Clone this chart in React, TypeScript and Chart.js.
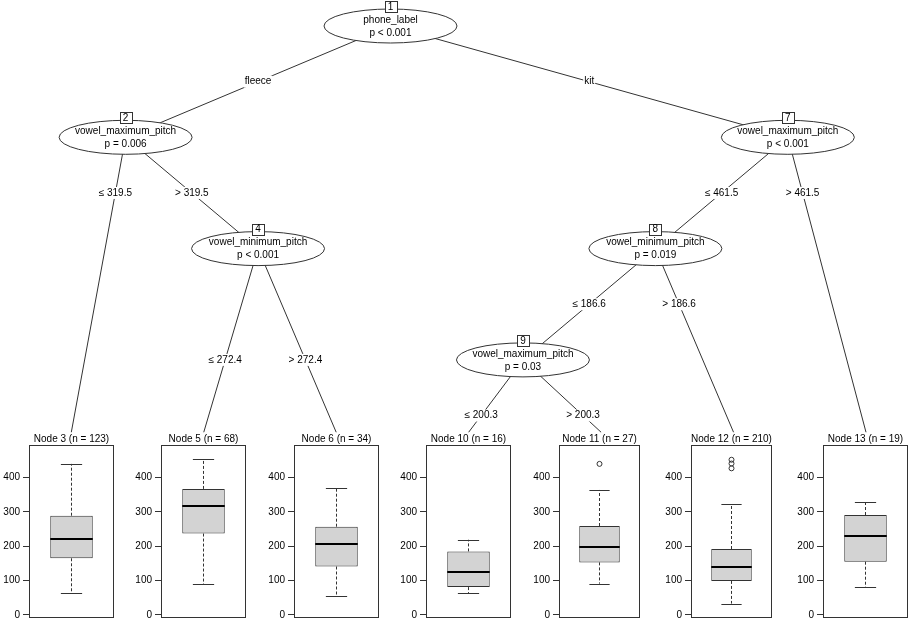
import React, { useEffect, useRef } from 'react';
import { Chart, registerables } from 'chart.js';

Chart.register(...registerables);

const FONT = '"Liberation Sans", Arial, Helvetica, sans-serif';

// ---- Tree data ----
const innerIds = [1, 2, 4, 7, 8, 9];
const innerVariables = [
  'phone_label',
  'vowel_maximum_pitch',
  'vowel_minimum_pitch',
  'vowel_maximum_pitch',
  'vowel_minimum_pitch',
  'vowel_maximum_pitch',
];
const innerPValues = ['p < 0.001', 'p = 0.006', 'p < 0.001', 'p < 0.001', 'p = 0.019', 'p = 0.03'];

const edgeFrom = [1, 1, 2, 2, 4, 4, 7, 7, 8, 8, 9, 9];
const edgeTo = [2, 7, 3, 4, 5, 6, 8, 13, 9, 12, 10, 11];
const edgeLabels = [
  'fleece', 'kit',
  '\u2264 319.5', '> 319.5',
  '\u2264 272.4', '> 272.4',
  '\u2264 461.5', '> 461.5',
  '\u2264 186.6', '> 186.6',
  '\u2264 200.3', '> 200.3',
];

// ---- Terminal node data (boxplot statistics) ----
const terminalIds = [3, 5, 6, 10, 11, 12, 13];
const terminalN = [123, 68, 34, 16, 27, 210, 19];
const boxLower = [63, 90, 54, 63, 91, 33, 81];
const boxQ1 = [165, 237, 141, 81, 153, 99, 155];
const boxMedian = [222, 316, 208, 125, 197, 139, 230];
const boxQ3 = [289, 367, 257, 185, 259, 192, 291];
const boxUpper = [440, 453, 371, 219, 364, 323, 329];
const boxOutliers: number[][] = [[], [], [], [], [440], [452, 441, 427], []];
const yTicks = [0, 100, 200, 300, 400];

// ---- Layout constants (positions / sizes, not data) ----
const W = 909;
const H = 620;
const TERM_FIRST_CENTER = 71.3;
const TERM_SPACING = 132.45;
const NODE_SHIFT = 0.41;
const LEVEL_TOP = 26;
const LEVEL_STEP = 111.3;
const TERMINAL_EDGE_DEPTH = 3.65;
const RX = 66.5;
const RY = 17;
const FRAME_W = 85;
const AXIS_W = 30;
const PANEL_TOP = 430;
const PANEL_PAD_TOP = 15;
const PANEL_H = 200;
const PANEL_PAD_BOTTOM = 12;

// ---- Derived tree layout ----
const children: Record<number, number[]> = {};
edgeFrom.forEach((f, i) => {
  (children[f] = children[f] || []).push(edgeTo[i]);
});
const isTerminal = (id: number) => terminalIds.includes(id);
const countTerms = (id: number): number =>
  isTerminal(id) ? 1 : children[id].reduce((s, c) => s + countTerms(c), 0);
const depth: Record<number, number> = {};
const xPos: Record<number, number> = {};
let maxDepth = 0;
function layout(id: number, d: number, offset: number) {
  if (isTerminal(id)) {
    xPos[id] = offset + 1;
    return;
  }
  depth[id] = d;
  maxDepth = Math.max(maxDepth, d);
  const [l, r] = children[id];
  const nl = countTerms(l);
  xPos[id] = offset + nl + NODE_SHIFT;
  layout(l, d + 1, offset);
  layout(r, d + 1, offset + nl);
}
layout(innerIds[0], 0, 0);
terminalIds.forEach((id) => {
  depth[id] = maxDepth + 1;
});
const endDepth = (id: number) => (isTerminal(id) ? TERMINAL_EDGE_DEPTH : depth[id]);
const labelDepth = (parent: number) =>
  (depth[parent] + Math.min(...children[parent].map((c) => depth[c]))) / 2;

const xMin = 1 - TERM_FIRST_CENTER / TERM_SPACING;
const xMax = xMin + W / TERM_SPACING;
const yMin = -LEVEL_TOP / LEVEL_STEP;
const yMax = yMin + H / LEVEL_STEP;

const allVals = [...boxLower, ...boxUpper, ...boxOutliers.flat()];
const dMin = Math.min(...allVals);
const dMax = Math.max(...allVals);
const dRange = dMax - dMin;
const panelYMin = dMin - 0.1 * dRange;
const panelYMax = dMax + 0.1 * dRange;

const treePlugin = {
  id: 'treeNodes',
  afterDatasetsDraw(chart: any) {
    const { ctx } = chart;
    const xs = chart.scales.x;
    const ys = chart.scales.y;
    ctx.save();
    ctx.font = `10px ${FONT}`;
    ctx.textAlign = 'center';
    ctx.textBaseline = 'middle';
    edgeFrom.forEach((f, i) => {
      const t = edgeTo[i];
      const ld = labelDepth(f);
      const x0 = xPos[f];
      const y0 = depth[f];
      const x1 = xPos[t];
      const y1 = endDepth(t);
      const lx = x0 + ((x1 - x0) * (ld - y0)) / (y1 - y0);
      const px = xs.getPixelForValue(lx);
      const py = ys.getPixelForValue(ld);
      const w = ctx.measureText(edgeLabels[i]).width;
      ctx.fillStyle = '#fff';
      ctx.fillRect(px - w / 2 - 1, py - 6, w + 2, 12);
      ctx.fillStyle = '#000';
      ctx.fillText(edgeLabels[i], px, py);
    });
    innerIds.forEach((id, k) => {
      const px = xs.getPixelForValue(xPos[id]);
      const py = ys.getPixelForValue(depth[id]);
      ctx.beginPath();
      ctx.ellipse(px, py, RX, RY, 0, 0, Math.PI * 2);
      ctx.fillStyle = '#fff';
      ctx.fill();
      ctx.strokeStyle = '#333';
      ctx.lineWidth = 1;
      ctx.stroke();
      ctx.fillStyle = '#000';
      ctx.fillText(innerVariables[k], px, py - 6);
      ctx.fillText(innerPValues[k], px, py + 7);
      const s = String(id);
      const bw = Math.max(ctx.measureText(s).width + 6, 12);
      const bh = 11;
      const by = py - 19.5;
      const bx = Math.round(px - bw / 2) + 0.5;
      const byy = Math.round(by - bh / 2) + 0.5;
      ctx.fillStyle = '#fff';
      ctx.fillRect(bx, byy, bw, bh);
      ctx.strokeStyle = '#333';
      ctx.strokeRect(bx, byy, bw, bh);
      ctx.fillStyle = '#000';
      ctx.fillText(s, px, by + 0.5);
    });
    ctx.restore();
  },
};

function TreeCanvas() {
  const ref = useRef<HTMLCanvasElement>(null);
  useEffect(() => {
    const datasets = edgeFrom.map((f, i) => {
      const t = edgeTo[i];
      return {
        type: 'scatter' as const,
        data: [
          { x: xPos[f], y: depth[f] },
          { x: xPos[t], y: endDepth(t) },
        ],
        showLine: true,
        borderColor: '#333',
        borderWidth: 1,
        pointRadius: 0,
      };
    });
    const chart = new Chart(ref.current as HTMLCanvasElement, {
      type: 'scatter',
      data: { datasets },
      options: {
        animation: false,
        responsive: false,
        devicePixelRatio: 1,
        layout: { padding: 0 },
        scales: {
          x: { type: 'linear', min: xMin, max: xMax, display: false },
          y: { type: 'linear', min: yMin, max: yMax, reverse: true, display: false },
        },
        plugins: { legend: { display: false }, tooltip: { enabled: false } },
      },
      plugins: [treePlugin],
    } as any);
    return () => chart.destroy();
  }, []);
  return (
    <canvas
      ref={ref}
      width={W}
      height={H}
      style={{ position: 'absolute', left: 0, top: 0, width: W, height: H }}
    />
  );
}

function Panel({ index }: { index: number }) {
  const ref = useRef<HTMLCanvasElement>(null);
  const center = TERM_FIRST_CENTER + TERM_SPACING * index;
  const frameLeft = Math.round(center - FRAME_W / 2);
  const left = frameLeft - AXIS_W;
  const cw = AXIS_W + FRAME_W + 1;
  useEffect(() => {
    const boxPlugin = {
      id: 'boxExtras',
      afterDatasetsDraw(chart: any) {
        const { ctx, chartArea } = chart;
        const ys = chart.scales.y;
        const xs = chart.scales.x;
        const cx = xs.getPixelForValue(0);
        const bw = (chartArea.right - chartArea.left) * 0.5;
        const yq1 = ys.getPixelForValue(boxQ1[index]);
        const yq3 = ys.getPixelForValue(boxQ3[index]);
        const ylo = ys.getPixelForValue(boxLower[index]);
        const yhi = ys.getPixelForValue(boxUpper[index]);
        const ymed = ys.getPixelForValue(boxMedian[index]);
        ctx.save();
        ctx.strokeStyle = '#333';
        ctx.lineWidth = 1;
        ctx.setLineDash([3, 2]);
        ctx.beginPath();
        ctx.moveTo(cx, yq3);
        ctx.lineTo(cx, yhi);
        ctx.moveTo(cx, yq1);
        ctx.lineTo(cx, ylo);
        ctx.stroke();
        ctx.setLineDash([]);
        ctx.beginPath();
        ctx.moveTo(cx - bw / 4, Math.round(yhi) + 0.5);
        ctx.lineTo(cx + bw / 4, Math.round(yhi) + 0.5);
        ctx.moveTo(cx - bw / 4, Math.round(ylo) + 0.5);
        ctx.lineTo(cx + bw / 4, Math.round(ylo) + 0.5);
        ctx.stroke();
        ctx.strokeStyle = '#000';
        ctx.lineWidth = 2;
        ctx.beginPath();
        ctx.moveTo(cx - bw / 2, Math.round(ymed));
        ctx.lineTo(cx + bw / 2, Math.round(ymed));
        ctx.stroke();
        ctx.restore();
      },
      afterDraw(chart: any) {
        const { ctx, chartArea } = chart;
        ctx.save();
        ctx.strokeStyle = '#333';
        ctx.lineWidth = 1;
        const l = Math.round(chartArea.left) + 0.5;
        const t = Math.round(chartArea.top) + 0.5;
        const r = Math.round(chartArea.right) - 0.5;
        const b = Math.round(chartArea.bottom) - 0.5;
        ctx.strokeRect(l, t, r - l, b - t);
        ctx.fillStyle = '#000';
        ctx.font = `10px ${FONT}`;
        ctx.textAlign = 'center';
        ctx.textBaseline = 'middle';
        ctx.fillText(
          `Node ${terminalIds[index]} (n = ${terminalN[index]})`,
          (chartArea.left + chartArea.right) / 2,
          chartArea.top - 6
        );
        ctx.restore();
      },
    };
    const chart = new Chart(ref.current as HTMLCanvasElement, {
      type: 'bar',
      data: {
        labels: [''],
        datasets: [
          {
            type: 'bar',
            data: [[boxQ1[index], boxQ3[index]]],
            backgroundColor: '#d3d3d3',
            borderColor: '#333',
            borderWidth: 1,
            borderSkipped: false,
            barPercentage: 0.5,
            categoryPercentage: 1,
          },
          {
            type: 'scatter',
            data: boxOutliers[index].map((v) => ({ x: '', y: v })),
            pointRadius: 2.5,
            pointBorderColor: '#333',
            pointBackgroundColor: 'rgba(0,0,0,0)',
            pointBorderWidth: 1,
            showLine: false,
          },
        ],
      },
      options: {
        animation: false,
        responsive: false,
        devicePixelRatio: 1,
        layout: { padding: { top: PANEL_PAD_TOP, bottom: PANEL_PAD_BOTTOM, left: 0, right: 1 } },
        scales: {
          x: { type: 'category', display: false },
          y: {
            type: 'linear',
            min: panelYMin,
            max: panelYMax,
            afterFit: (scale: any) => {
              scale.width = AXIS_W;
            },
            afterBuildTicks: (scale: any) => {
              scale.ticks = yTicks.map((v) => ({ value: v }));
            },
            border: { display: false },
            grid: {
              display: true,
              drawOnChartArea: false,
              drawTicks: true,
              tickLength: 6,
              color: '#333',
              lineWidth: 1,
            },
            ticks: {
              color: '#000',
              padding: 3,
              font: { family: FONT, size: 10 },
            },
          },
        },
        plugins: { legend: { display: false }, tooltip: { enabled: false } },
      },
      plugins: [boxPlugin],
    } as any);
    return () => chart.destroy();
  }, [index]);
  return (
    <canvas
      ref={ref}
      width={cw}
      height={PANEL_H}
      style={{ position: 'absolute', left, top: PANEL_TOP, width: cw, height: PANEL_H }}
    />
  );
}

export default function App() {
  return (
    <div
      style={{
        position: 'absolute',
        left: 0,
        top: 0,
        width: W,
        height: H,
        overflow: 'hidden',
        background: '#fff',
      }}
    >
      <TreeCanvas />
      {terminalIds.map((id, i) => (
        <Panel key={id} index={i} />
      ))}
    </div>
  );
}
